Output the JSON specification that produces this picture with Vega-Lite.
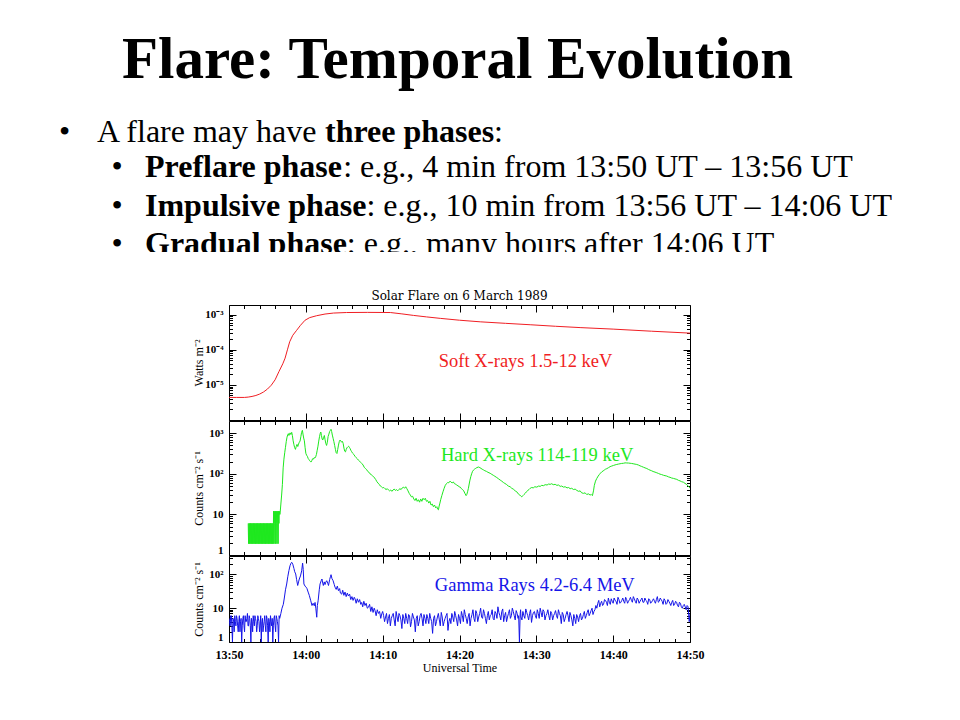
{
  "$schema": "https://vega.github.io/schema/vega-lite/v6.json",
  "padding": 0,
  "background": "white",
  "spacing": 37,
  "datasets": {
    "slide": [
      {"role": "heading", "x": 457.5, "y": 78, "text": "Flare: Temporal Evolution"},
      {"role": "bullet", "x": 59, "y": 142, "text": "•"},
      {"role": "text", "x": 97, "y": 142, "text": "A flare may have"},
      {"role": "term", "x": 325, "y": 142, "text": "three phases"},
      {"role": "text", "x": 494, "y": 142, "text": ":"},
      {"role": "bullet", "x": 111.5, "y": 177, "text": "•"},
      {"role": "term", "x": 145, "y": 177, "text": "Preflare phase"},
      {"role": "text", "x": 343.2, "y": 177, "text": ": e.g., 4 min from 13:50 UT – 13:56 UT"},
      {"role": "bullet", "x": 111.5, "y": 216, "text": "•"},
      {"role": "term", "x": 145, "y": 216, "text": "Impulsive phase"},
      {"role": "text", "x": 366.4, "y": 216, "text": ": e.g., 10 min from 13:56 UT – 14:06 UT"},
      {"role": "bullet", "x": 111.5, "y": 254, "text": "•"},
      {"role": "term", "x": 145, "y": 254, "text": "Gradual phase"},
      {"role": "text", "x": 346.8, "y": 254, "text": ":  e.g., many hours after 14:06 UT"}
    ],
    "sxr": [
      {"t": 0, "v": 4.4e-6}, {"t": 1, "v": 4.4e-6}, {"t": 2, "v": 4.4e-6}, {"t": 2.5, "v": 4.5e-6},
      {"t": 3, "v": 4.7e-6}, {"t": 3.5, "v": 5.0e-6}, {"t": 4, "v": 5.5e-6}, {"t": 4.5, "v": 6.3e-6},
      {"t": 5, "v": 7.6e-6}, {"t": 5.5, "v": 9.8e-6}, {"t": 6, "v": 1.4e-5}, {"t": 6.5, "v": 2.4e-5},
      {"t": 7, "v": 4.0e-5}, {"t": 7.3, "v": 5.8e-5}, {"t": 7.6, "v": 1.0e-4}, {"t": 7.9, "v": 1.7e-4},
      {"t": 8.3, "v": 2.6e-4}, {"t": 8.8, "v": 3.6e-4}, {"t": 9.3, "v": 5.0e-4}, {"t": 9.9, "v": 7.0e-4},
      {"t": 10.5, "v": 8.3e-4}, {"t": 11.4, "v": 9.4e-4}, {"t": 12.5, "v": 1.05e-3}, {"t": 13.6, "v": 1.12e-3},
      {"t": 15.3, "v": 1.16e-3}, {"t": 18, "v": 1.17e-3}, {"t": 21, "v": 1.16e-3}, {"t": 22.5, "v": 1.06e-3},
      {"t": 24, "v": 9.6e-4}, {"t": 25.7, "v": 8.7e-4}, {"t": 27.5, "v": 7.9e-4}, {"t": 30, "v": 7.0e-4},
      {"t": 32.7, "v": 6.3e-4}, {"t": 36, "v": 5.7e-4}, {"t": 39.2, "v": 5.2e-4}, {"t": 42.5, "v": 4.7e-4},
      {"t": 45.8, "v": 4.3e-4}, {"t": 50, "v": 3.9e-4}, {"t": 55, "v": 3.4e-4}, {"t": 60, "v": 3.0e-4}
    ],
    "hxr": [
      {"t":2.5,"v":6},{"t":2.55,"v":1.9},{"t":2.6,"v":6},{"t":2.65,"v":1.9},{"t":2.7,"v":6},{"t":2.75,"v":1.9},{"t":2.8,"v":6},{"t":2.85,"v":1.9},{"t":2.9,"v":6},{"t":2.95,"v":1.9},
      {"t":3.0,"v":6},{"t":3.05,"v":1.9},{"t":3.1,"v":6},{"t":3.15,"v":1.9},{"t":3.2,"v":6},{"t":3.25,"v":1.9},{"t":3.3,"v":6},{"t":3.35,"v":1.9},{"t":3.4,"v":6},{"t":3.45,"v":1.9},
      {"t":3.5,"v":6},{"t":3.55,"v":1.9},{"t":3.6,"v":6},{"t":3.65,"v":1.9},{"t":3.7,"v":6},{"t":3.75,"v":1.9},{"t":3.8,"v":6},{"t":3.85,"v":1.9},{"t":3.9,"v":6},{"t":3.95,"v":1.9},
      {"t":4.0,"v":6},{"t":4.05,"v":1.9},{"t":4.1,"v":6},{"t":4.15,"v":1.9},{"t":4.2,"v":6},{"t":4.25,"v":1.9},{"t":4.3,"v":6},{"t":4.35,"v":1.9},{"t":4.4,"v":6},{"t":4.45,"v":1.9},
      {"t":4.5,"v":6},{"t":4.55,"v":1.9},{"t":4.6,"v":6},{"t":4.65,"v":1.9},{"t":4.7,"v":6},{"t":4.75,"v":1.9},{"t":4.8,"v":6},{"t":4.85,"v":1.9},{"t":4.9,"v":6},{"t":4.95,"v":1.9},
      {"t":5.0,"v":6},{"t":5.05,"v":1.9},{"t":5.1,"v":6},{"t":5.15,"v":1.9},{"t":5.2,"v":6},{"t":5.25,"v":1.9},{"t":5.3,"v":6},{"t":5.35,"v":1.9},{"t":5.4,"v":6},{"t":5.45,"v":1.9},
      {"t":5.5,"v":6},{"t":5.55,"v":1.9},{"t":5.6,"v":6},{"t":5.65,"v":1.9},{"t":5.7,"v":6},{"t":5.75,"v":1.9},
      {"t":5.8,"v":12},{"t":5.85,"v":1.9},{"t":5.9,"v":12},{"t":5.95,"v":6},{"t":6.0,"v":1.9},{"t":6.05,"v":12},{"t":6.1,"v":1.9},{"t":6.15,"v":6},{"t":6.2,"v":12},{"t":6.25,"v":1.9},
      {"t":6.3,"v":12},{"t":6.35,"v":6},{"t":6.4,"v":1.9},{"t":6.45,"v":12},{"t":6.5,"v":6},{"t":6.55,"v":12},{"t":6.6,"v":10},
      {"t":6.64,"v":10},{"t":6.75,"v":18},{"t":6.85,"v":30},{"t":6.95,"v":55},{"t":7.05,"v":140},{"t":7.15,"v":230},{"t":7.25,"v":330},{"t":7.35,"v":450},{"t":7.45,"v":620},{"t":7.55,"v":800},
      {"t":7.65,"v":920},{"t":7.72,"v":975},{"t":7.8,"v":880},{"t":7.88,"v":960},{"t":7.95,"v":1020},{"t":8.05,"v":930},{"t":8.16,"v":1050},{"t":8.25,"v":880},{"t":8.35,"v":650},{"t":8.45,"v":520},
      {"t":8.55,"v":440},{"t":8.65,"v":400},{"t":8.75,"v":470},{"t":8.85,"v":530},{"t":8.95,"v":470},{"t":9.05,"v":540},{"t":9.15,"v":600},{"t":9.25,"v":640},{"t":9.35,"v":820},{"t":9.45,"v":1050},
      {"t":9.55,"v":1180},{"t":9.63,"v":950},{"t":9.72,"v":760},{"t":9.81,"v":650},{"t":9.9,"v":450},{"t":10.0,"v":320},{"t":10.1,"v":287},{"t":10.2,"v":270},{"t":10.3,"v":240},{"t":10.4,"v":225},
      {"t":10.5,"v":210},{"t":10.6,"v":200},{"t":10.68,"v":195},{"t":10.78,"v":212},{"t":10.88,"v":235},{"t":10.98,"v":230},{"t":11.08,"v":250},{"t":11.18,"v":245},{"t":11.28,"v":262},{"t":11.38,"v":300},
      {"t":11.48,"v":380},{"t":11.58,"v":480},{"t":11.68,"v":640},{"t":11.78,"v":820},{"t":11.88,"v":1000},{"t":11.95,"v":1070},{"t":12.03,"v":880},{"t":12.12,"v":720},{"t":12.2,"v":680},{"t":12.3,"v":770},
      {"t":12.41,"v":880},{"t":12.5,"v":700},{"t":12.6,"v":560},{"t":12.7,"v":500},{"t":12.8,"v":600},{"t":12.9,"v":830},{"t":13.0,"v":950},{"t":13.1,"v":1100},{"t":13.2,"v":1180},{"t":13.28,"v":1250},
      {"t":13.36,"v":1100},{"t":13.45,"v":900},{"t":13.55,"v":750},{"t":13.65,"v":620},{"t":13.75,"v":500},{"t":13.85,"v":400},{"t":13.95,"v":330},{"t":14.05,"v":316},{"t":14.15,"v":400},{"t":14.25,"v":510},
      {"t":14.35,"v":620},{"t":14.45,"v":680},{"t":14.55,"v":650},{"t":14.65,"v":600},{"t":14.76,"v":630},{"t":14.86,"v":560},{"t":14.96,"v":430},{"t":15.06,"v":360},{"t":15.16,"v":347},{"t":15.26,"v":400},
      {"t":15.36,"v":440},{"t":15.46,"v":460},{"t":15.56,"v":480},{"t":15.66,"v":450},{"t":15.76,"v":420},{"t":15.86,"v":380},{"t":15.97,"v":350},{"t":16.1,"v":320},{"t":16.25,"v":300},{"t":16.4,"v":270},
      {"t":16.55,"v":250},{"t":16.7,"v":235},{"t":16.84,"v":217},{"t":17.0,"v":205},{"t":17.15,"v":190},{"t":17.3,"v":178},{"t":17.45,"v":165},{"t":17.6,"v":145},{"t":17.75,"v":135},{"t":17.9,"v":128},
      {"t":18.05,"v":115},{"t":18.2,"v":110},{"t":18.35,"v":100},{"t":18.5,"v":96},{"t":18.65,"v":90},{"t":18.8,"v":86},{"t":18.95,"v":79},{"t":19.1,"v":72},{"t":19.25,"v":64},{"t":19.4,"v":59},
      {"t":19.55,"v":55},{"t":19.7,"v":50},{"t":19.85,"v":48},{"t":20.0,"v":45},{"t":20.15,"v":46},{"t":20.3,"v":43},{"t":20.45,"v":41},{"t":20.6,"v":43},{"t":20.75,"v":40},{"t":20.9,"v":38},
      {"t":21.05,"v":40},{"t":21.2,"v":37},{"t":21.35,"v":40},{"t":21.5,"v":42},{"t":21.65,"v":39},{"t":21.8,"v":41},{"t":21.95,"v":38},{"t":22.1,"v":41},{"t":22.25,"v":43},{"t":22.4,"v":41},
      {"t":22.55,"v":45},{"t":22.7,"v":47},{"t":22.85,"v":44},{"t":23.0,"v":48},{"t":23.15,"v":43},{"t":23.3,"v":38},{"t":23.45,"v":33},{"t":23.6,"v":30},{"t":23.75,"v":27},{"t":23.9,"v":28},
      {"t":24.05,"v":24},{"t":24.2,"v":22},{"t":24.35,"v":25},{"t":24.5,"v":21},{"t":24.65,"v":23},{"t":24.8,"v":20},{"t":24.95,"v":24},{"t":25.1,"v":21},{"t":25.25,"v":25},{"t":25.4,"v":23},
      {"t":25.55,"v":25},{"t":25.7,"v":21},{"t":25.85,"v":22},{"t":26.0,"v":19},{"t":26.15,"v":21},{"t":26.3,"v":17},{"t":26.45,"v":18},{"t":26.6,"v":15.5},{"t":26.75,"v":17},{"t":26.9,"v":14.5},
      {"t":27.05,"v":15.5},{"t":27.15,"v":13.5},{"t":27.26,"v":13},{"t":27.35,"v":16},{"t":27.45,"v":19},{"t":27.55,"v":23},{"t":27.7,"v":29},{"t":27.85,"v":36},{"t":28.0,"v":44},{"t":28.15,"v":52},
      {"t":28.3,"v":57},{"t":28.45,"v":61},{"t":28.6,"v":60},{"t":28.77,"v":66},{"t":28.9,"v":62},{"t":29.05,"v":60},{"t":29.2,"v":63},{"t":29.35,"v":57},{"t":29.5,"v":56},{"t":29.65,"v":52},
      {"t":29.8,"v":51},{"t":29.95,"v":48},{"t":30.1,"v":47},{"t":30.25,"v":43},{"t":30.4,"v":41},{"t":30.55,"v":38},{"t":30.7,"v":33},{"t":30.86,"v":29},{"t":30.95,"v":31},{"t":31.05,"v":36},
      {"t":31.16,"v":44},{"t":31.26,"v":56},{"t":31.36,"v":70},{"t":31.47,"v":85},{"t":31.58,"v":100},{"t":31.7,"v":115},{"t":31.81,"v":123},{"t":31.95,"v":130},{"t":32.1,"v":136},{"t":32.25,"v":142},
      {"t":32.47,"v":147},{"t":32.65,"v":142},{"t":32.8,"v":136},{"t":32.95,"v":130},{"t":33.12,"v":125},{"t":33.3,"v":119},{"t":33.5,"v":115},{"t":33.7,"v":109},{"t":33.99,"v":103},{"t":34.2,"v":97},
      {"t":34.4,"v":92},{"t":34.6,"v":87},{"t":34.85,"v":81},{"t":35.05,"v":76},{"t":35.3,"v":70},{"t":35.5,"v":66},{"t":35.72,"v":61},{"t":35.9,"v":58},{"t":36.1,"v":55},{"t":36.35,"v":50},
      {"t":36.59,"v":48},{"t":36.8,"v":44},{"t":37.0,"v":42},{"t":37.25,"v":38},{"t":37.46,"v":36},{"t":37.65,"v":32},{"t":37.85,"v":30},{"t":38.0,"v":28},{"t":38.1,"v":27},{"t":38.25,"v":29},
      {"t":38.4,"v":31},{"t":38.55,"v":33},{"t":38.7,"v":36},{"t":38.9,"v":39},{"t":39.05,"v":41},{"t":39.2,"v":44},{"t":39.4,"v":46},{"t":39.6,"v":45},{"t":39.8,"v":48},{"t":40.06,"v":47},
      {"t":40.3,"v":50},{"t":40.5,"v":49},{"t":40.7,"v":52},{"t":40.93,"v":51},{"t":41.15,"v":54},{"t":41.4,"v":53},{"t":41.6,"v":56},{"t":41.8,"v":55},{"t":42.0,"v":57},{"t":42.2,"v":54},
      {"t":42.45,"v":55},{"t":42.67,"v":52},{"t":42.9,"v":53},{"t":43.1,"v":49},{"t":43.3,"v":50},{"t":43.53,"v":47},{"t":43.75,"v":48},{"t":44.0,"v":45},{"t":44.2,"v":46},{"t":44.4,"v":43},
      {"t":44.6,"v":44},{"t":44.85,"v":41},{"t":45.05,"v":42},{"t":45.27,"v":39},{"t":45.5,"v":37},{"t":45.7,"v":38},{"t":45.9,"v":34},{"t":46.14,"v":33},{"t":46.35,"v":34},{"t":46.55,"v":31},
      {"t":46.79,"v":32},{"t":47.0,"v":30},{"t":47.15,"v":31},{"t":47.3,"v":29},{"t":47.44,"v":38},{"t":47.55,"v":52},{"t":47.7,"v":66},{"t":47.87,"v":77},{"t":48.05,"v":88},{"t":48.2,"v":96},
      {"t":48.35,"v":104},{"t":48.52,"v":112},{"t":48.7,"v":118},{"t":48.85,"v":124},{"t":49.0,"v":130},{"t":49.17,"v":134},{"t":49.4,"v":142},{"t":49.6,"v":150},{"t":49.8,"v":155},{"t":50.05,"v":161},
      {"t":50.25,"v":166},{"t":50.47,"v":170},{"t":50.7,"v":174},{"t":50.9,"v":177},{"t":51.1,"v":180},{"t":51.35,"v":182},{"t":51.55,"v":186},{"t":51.77,"v":185},{"t":52.0,"v":184},{"t":52.2,"v":182},
      {"t":52.4,"v":180},{"t":52.6,"v":177},{"t":52.85,"v":173},{"t":53.07,"v":170},{"t":53.3,"v":164},{"t":53.5,"v":157},{"t":53.7,"v":152},{"t":53.95,"v":145},{"t":54.15,"v":140},{"t":54.38,"v":135},
      {"t":54.6,"v":128},{"t":54.8,"v":123},{"t":55.0,"v":119},{"t":55.2,"v":114},{"t":55.45,"v":110},{"t":55.68,"v":106},{"t":55.9,"v":102},{"t":56.1,"v":98},{"t":56.3,"v":96},{"t":56.55,"v":92},
      {"t":56.75,"v":90},{"t":56.98,"v":88},{"t":57.2,"v":84},{"t":57.4,"v":82},{"t":57.6,"v":79},{"t":57.85,"v":77},{"t":58.05,"v":75},{"t":58.28,"v":73},{"t":58.5,"v":69},{"t":58.7,"v":67},
      {"t":58.9,"v":64},{"t":59.15,"v":62},{"t":59.35,"v":58},{"t":59.55,"v":55},{"t":59.75,"v":50},{"t":59.9,"v":47},{"t":60.0,"v":44}
    ],
    "gamma": [
      {"t":0.0,"v":5},{"t":0.075,"v":4},{"t":0.15,"v":3},{"t":0.225,"v":6},{"t":0.3,"v":6},{"t":0.375,"v":3},{"t":0.45,"v":1},{"t":0.525,"v":5},{"t":0.6,"v":4},{"t":0.675,"v":2},
      {"t":0.75,"v":6},{"t":0.825,"v":4},{"t":0.9,"v":3},{"t":0.975,"v":6},{"t":1.05,"v":5},{"t":1.125,"v":3},{"t":1.2,"v":2},{"t":1.275,"v":4},{"t":1.35,"v":6},{"t":1.425,"v":2},
      {"t":1.5,"v":4},{"t":1.575,"v":5},{"t":1.65,"v":1},{"t":1.725,"v":3},{"t":1.8,"v":5},{"t":1.875,"v":6},{"t":1.95,"v":3},{"t":2.025,"v":2},{"t":2.1,"v":6},{"t":2.175,"v":4},
      {"t":2.25,"v":4},{"t":2.325,"v":5},{"t":2.4,"v":7},{"t":2.475,"v":3},{"t":2.55,"v":3},{"t":2.625,"v":6},{"t":2.7,"v":5},{"t":2.775,"v":3},{"t":2.85,"v":1},{"t":2.925,"v":5},
      {"t":3.0,"v":4},{"t":3.075,"v":2},{"t":3.15,"v":6},{"t":3.225,"v":4},{"t":3.3,"v":3},{"t":3.375,"v":6},{"t":3.45,"v":5},{"t":3.525,"v":4},{"t":3.6,"v":2},{"t":3.675,"v":3},
      {"t":3.75,"v":6},{"t":3.825,"v":5},{"t":3.9,"v":4},{"t":3.975,"v":2},{"t":4.05,"v":3},{"t":4.125,"v":6},{"t":4.2,"v":1},{"t":4.275,"v":4},{"t":4.35,"v":5},{"t":4.425,"v":2},
      {"t":4.5,"v":3},{"t":4.575,"v":4},{"t":4.65,"v":6},{"t":4.725,"v":3},{"t":4.8,"v":2},{"t":4.875,"v":6},{"t":4.95,"v":5},{"t":5.025,"v":3},{"t":5.1,"v":1},{"t":5.175,"v":5},
      {"t":5.25,"v":4},{"t":5.325,"v":2},{"t":5.4,"v":6},{"t":5.475,"v":4},{"t":5.55,"v":3},{"t":5.625,"v":5},{"t":5.7,"v":1},{"t":5.775,"v":3},{"t":5.85,"v":5},{"t":5.925,"v":6},
      {"t":6.0,"v":3},{"t":6.075,"v":2},{"t":6.15,"v":6},{"t":6.225,"v":5},{"t":6.3,"v":4},{"t":6.375,"v":3},{"t":6.45,"v":1},{"t":6.525,"v":6},{"t":6.6,"v":5},
      {"t":6.75,"v":7},{"t":6.9,"v":10},{"t":7.07,"v":13},{"t":7.2,"v":20},{"t":7.35,"v":35},
      {"t":7.51,"v":52},{"t":7.65,"v":85},{"t":7.8,"v":130},{"t":7.94,"v":180},{"t":8.05,"v":210},{"t":8.16,"v":228},{"t":8.3,"v":200},{"t":8.45,"v":150},{"t":8.55,"v":120},{"t":8.68,"v":103},
      {"t":8.8,"v":70},{"t":8.94,"v":47},{"t":9.05,"v":60},{"t":9.15,"v":73},{"t":9.3,"v":90},{"t":9.46,"v":128},{"t":9.58,"v":215},{"t":9.66,"v":140},{"t":9.75,"v":52},{"t":9.9,"v":45},
      {"t":10.03,"v":42},{"t":10.15,"v":38},{"t":10.3,"v":30},{"t":10.45,"v":24},{"t":10.64,"v":16.6},{"t":10.8,"v":12},{"t":10.95,"v":14},{"t":11.1,"v":11.8},{"t":11.2,"v":14.8},{"t":11.3,"v":10},
      {"t":11.42,"v":5.4},{"t":11.5,"v":12},{"t":11.6,"v":16.6},{"t":11.75,"v":35},{"t":11.85,"v":52},{"t":12.0,"v":65},{"t":12.1,"v":73},{"t":12.2,"v":55},{"t":12.28,"v":47},{"t":12.4,"v":60},
      {"t":12.5,"v":50},{"t":12.6,"v":59},{"t":12.72,"v":65},{"t":12.85,"v":55},{"t":12.95,"v":47},{"t":13.1,"v":70},{"t":13.2,"v":85},{"t":13.28,"v":98},{"t":13.4,"v":75},{"t":13.55,"v":65},
      {"t":13.7,"v":50},{"t":13.8,"v":42},{"t":13.95,"v":36},{"t":14.1,"v":45},{"t":14.24,"v":33},{"t":14.4,"v":38},{"t":14.5,"v":28},{"t":14.67,"v":26},{"t":14.8,"v":34},{"t":14.95,"v":24},
      {"t":15.1,"v":30},{"t":15.25,"v":22},{"t":15.4,"v":28},{"t":15.54,"v":23},{"t":15.7,"v":26},{"t":15.85,"v":18},{"t":16.0,"v":22},{"t":16.15,"v":17},{"t":16.3,"v":21},{"t":16.41,"v":18.8},
      {"t":16.55,"v":14},{"t":16.7,"v":19},{"t":16.85,"v":15},{"t":17.0,"v":18},{"t":17.15,"v":13},{"t":17.27,"v":14.8},{"t":17.4,"v":11},{"t":17.55,"v":16},{"t":17.7,"v":12},{"t":17.85,"v":14},
      {"t":18.0,"v":10},{"t":18.14,"v":10.6},{"t":18.3,"v":13},{"t":18.45,"v":8},{"t":18.6,"v":11},{"t":18.75,"v":7.5},{"t":18.9,"v":10},{"t":19.01,"v":8.5},{"t":19.15,"v":6},{"t":19.3,"v":9},
      {"t":19.45,"v":7},{"t":19.6,"v":8},{"t":19.75,"v":5},{"t":19.88,"v":6.8},{"t":20.0,"v":8},
      {"t":20.125,"v":6},{"t":20.25,"v":4},{"t":20.375,"v":5.5},{"t":20.5,"v":7},{"t":20.625,"v":3.5},{"t":20.75,"v":5},{"t":20.875,"v":6.5},{"t":21.0,"v":3},{"t":21.125,"v":5},{"t":21.25,"v":6},
      {"t":21.375,"v":7},{"t":21.5,"v":4.5},{"t":21.625,"v":3},{"t":21.75,"v":8},{"t":21.875,"v":5.5},{"t":22.0,"v":4},{"t":22.125,"v":7},{"t":22.25,"v":6},{"t":22.375,"v":4.5},{"t":22.5,"v":2.5},
      {"t":22.625,"v":6.5},{"t":22.75,"v":5},{"t":22.875,"v":3.5},{"t":23.0,"v":7},{"t":23.125,"v":5},{"t":23.25,"v":3.5},{"t":23.375,"v":6.5},{"t":23.5,"v":6},{"t":23.625,"v":2.8},{"t":23.75,"v":4},
      {"t":23.875,"v":7},{"t":24.0,"v":5.5},{"t":24.125,"v":4.5},{"t":24.25,"v":2},{"t":24.375,"v":5},{"t":24.5,"v":6},{"t":24.625,"v":3},{"t":24.75,"v":4},{"t":24.875,"v":6},{"t":25.0,"v":7},
      {"t":25.125,"v":5},{"t":25.25,"v":3},{"t":25.375,"v":6.5},{"t":25.5,"v":5},{"t":25.625,"v":3.5},{"t":25.75,"v":6.5},{"t":25.875,"v":5},{"t":26.0,"v":3.5},{"t":26.125,"v":7},{"t":26.25,"v":5},
      {"t":26.375,"v":4},{"t":26.5,"v":1.8},{"t":26.625,"v":5},{"t":26.75,"v":6},{"t":26.875,"v":3},{"t":27.0,"v":4},{"t":27.125,"v":5.5},{"t":27.25,"v":7},{"t":27.375,"v":4.5},{"t":27.5,"v":3},
      {"t":27.625,"v":7.5},{"t":27.75,"v":5.5},{"t":27.875,"v":3},{"t":28.0,"v":4},{"t":28.125,"v":5},{"t":28.25,"v":6},{"t":28.375,"v":7},{"t":28.5,"v":2.2},{"t":28.625,"v":4},{"t":28.75,"v":5},
      {"t":28.875,"v":3.5},{"t":29.0,"v":7},{"t":29.125,"v":5.5},{"t":29.25,"v":4},{"t":29.375,"v":8},{"t":29.5,"v":6},{"t":29.625,"v":4.5},{"t":29.75,"v":3},{"t":29.875,"v":6.5},{"t":30.0,"v":5},
      {"t":30.125,"v":3.5},{"t":30.25,"v":8},{"t":30.375,"v":6},{"t":30.5,"v":4},{"t":30.625,"v":9},{"t":30.75,"v":6.5},{"t":30.875,"v":5},{"t":31.0,"v":3.5},{"t":31.125,"v":5.5},{"t":31.25,"v":7},
      {"t":31.375,"v":3},{"t":31.5,"v":5},{"t":31.625,"v":6.5},{"t":31.75,"v":9},{"t":31.875,"v":5},{"t":32.0,"v":4},{"t":32.125,"v":8.5},{"t":32.25,"v":7},{"t":32.375,"v":4},{"t":32.5,"v":5.5},
      {"t":32.625,"v":7},{"t":32.75,"v":10},{"t":32.875,"v":5.5},{"t":33.0,"v":5},{"t":33.125,"v":9},{"t":33.25,"v":7},{"t":33.375,"v":5},{"t":33.5,"v":3.5},{"t":33.625,"v":6},{"t":33.75,"v":8},
      {"t":33.875,"v":4.5},{"t":34.0,"v":6},{"t":34.125,"v":6.5},{"t":34.25,"v":9},{"t":34.375,"v":5},{"t":34.5,"v":4.5},{"t":34.625,"v":8},{"t":34.75,"v":7},{"t":34.875,"v":5},{"t":35.0,"v":11},
      {"t":35.125,"v":7.5},{"t":35.25,"v":6},{"t":35.375,"v":4.5},{"t":35.5,"v":8},{"t":35.625,"v":9.5},{"t":35.75,"v":4},{"t":35.875,"v":6},{"t":36.0,"v":7.5},{"t":36.125,"v":4},{"t":36.25,"v":5.5},
      {"t":36.375,"v":7},{"t":36.5,"v":9},{"t":36.625,"v":5},{"t":36.75,"v":6},{"t":36.875,"v":10},{"t":37.0,"v":8},{"t":37.125,"v":6},{"t":37.25,"v":4.5},{"t":37.375,"v":8.5},{"t":37.5,"v":7},
      {"t":37.625,"v":5},{"t":37.7,"v":6},{"t":37.8,"v":1},{"t":37.9,"v":7},{"t":37.95,"v":9},{"t":38.0,"v":5.5},{"t":38.125,"v":4.5},{"t":38.25,"v":8},{"t":38.375,"v":6},{"t":38.5,"v":5},
      {"t":38.625,"v":9.5},{"t":38.75,"v":7.5},{"t":38.875,"v":6},{"t":39.0,"v":4.5},{"t":39.125,"v":7},{"t":39.25,"v":9},{"t":39.375,"v":3.8},{"t":39.5,"v":6},{"t":39.625,"v":7.5},{"t":39.75,"v":8},
      {"t":39.875,"v":6},{"t":40.0,"v":5},{"t":40.125,"v":9},{"t":40.25,"v":7},{"t":40.375,"v":5},{"t":40.5,"v":10},{"t":40.625,"v":7.5},{"t":40.75,"v":5.5},{"t":40.875,"v":9},{"t":41.0,"v":8},
      {"t":41.125,"v":4.5},{"t":41.25,"v":6},{"t":41.375,"v":7},{"t":41.5,"v":9},{"t":41.625,"v":6},{"t":41.75,"v":4.5},{"t":41.875,"v":8},{"t":42.0,"v":7},{"t":42.125,"v":4.5},{"t":42.25,"v":6},
      {"t":42.375,"v":7},{"t":42.5,"v":8.5},{"t":42.625,"v":6},{"t":42.75,"v":5},{"t":42.875,"v":9},{"t":43.0,"v":7},{"t":43.125,"v":6},{"t":43.25,"v":3.5},{"t":43.375,"v":7.5},{"t":43.5,"v":6.5},
      {"t":43.625,"v":4},{"t":43.75,"v":5},{"t":43.875,"v":6.5},{"t":44.0,"v":8},{"t":44.125,"v":6},{"t":44.25,"v":4},{"t":44.375,"v":7.5},{"t":44.5,"v":6},{"t":44.625,"v":4.5},{"t":44.75,"v":3},
      {"t":44.875,"v":6.5},{"t":45.0,"v":5},{"t":45.125,"v":3.5},{"t":45.25,"v":6.5},{"t":45.375,"v":5.5},{"t":45.5,"v":4},{"t":45.625,"v":6},{"t":45.75,"v":7},{"t":45.875,"v":4.5},{"t":46.0,"v":5},
      {"t":46.125,"v":6.5},{"t":46.25,"v":8},{"t":46.375,"v":5},{"t":46.5,"v":6},{"t":46.625,"v":7.5},{"t":46.75,"v":9},{"t":46.875,"v":6},{"t":47.0,"v":7},{"t":47.125,"v":8.5},{"t":47.25,"v":10},
      {"t":47.375,"v":6.5},{"t":47.5,"v":8},{"t":47.625,"v":9},{"t":47.75,"v":12},{"t":47.875,"v":10},{"t":48.0,"v":14},{"t":48.125,"v":17},{"t":48.25,"v":11},{"t":48.375,"v":14},{"t":48.5,"v":16},
      {"t":48.625,"v":12},{"t":48.75,"v":13},{"t":48.875,"v":18},{"t":49.0,"v":17},{"t":49.125,"v":15},{"t":49.25,"v":12},{"t":49.375,"v":20},{"t":49.5,"v":15},{"t":49.625,"v":13},{"t":49.75,"v":19},
      {"t":49.875,"v":16},{"t":50.0,"v":14},{"t":50.125,"v":20},{"t":50.25,"v":17},{"t":50.375,"v":16},{"t":50.5,"v":13},{"t":50.625,"v":21},{"t":50.75,"v":18},{"t":50.875,"v":14},{"t":51.0,"v":15},
      {"t":51.125,"v":17},{"t":51.25,"v":20},{"t":51.375,"v":16},{"t":51.5,"v":14},{"t":51.625,"v":21},{"t":51.75,"v":18},{"t":51.875,"v":14},{"t":52.0,"v":16},{"t":52.125,"v":18},{"t":52.25,"v":21},
      {"t":52.375,"v":17},{"t":52.5,"v":15},{"t":52.625,"v":22},{"t":52.75,"v":19},{"t":52.875,"v":16},{"t":53.0,"v":14},{"t":53.125,"v":20},{"t":53.25,"v":18},{"t":53.375,"v":14},{"t":53.5,"v":16},
      {"t":53.625,"v":18},{"t":53.75,"v":20},{"t":53.875,"v":15},{"t":54.0,"v":15},{"t":54.125,"v":20},{"t":54.25,"v":17},{"t":54.375,"v":16},{"t":54.5,"v":13},{"t":54.625,"v":19},{"t":54.75,"v":18},
      {"t":54.875,"v":14},{"t":55.0,"v":15},{"t":55.125,"v":17},{"t":55.25,"v":19},{"t":55.375,"v":16},{"t":55.5,"v":14},{"t":55.625,"v":18},{"t":55.75,"v":22},{"t":55.875,"v":15},{"t":56.0,"v":16},
      {"t":56.125,"v":20},{"t":56.25,"v":18},{"t":56.375,"v":16},{"t":56.5,"v":13},{"t":56.625,"v":19},{"t":56.75,"v":17},{"t":56.875,"v":13},{"t":57.0,"v":14},{"t":57.125,"v":18},{"t":57.25,"v":16},
      {"t":57.375,"v":14},{"t":57.5,"v":12},{"t":57.625,"v":15},{"t":57.75,"v":17},{"t":57.875,"v":12},{"t":58.0,"v":13},{"t":58.125,"v":16},{"t":58.25,"v":15},{"t":58.375,"v":12},{"t":58.5,"v":11},
      {"t":58.625,"v":15},{"t":58.75,"v":14},{"t":58.875,"v":11},{"t":59.0,"v":10},{"t":59.125,"v":12},{"t":59.25,"v":13},{"t":59.375,"v":11},{"t":59.5,"v":9},{"t":59.625,"v":12},{"t":59.75,"v":11},
      {"t":59.9,"v":4},{"t":60.0,"v":7}
    ]
  },
  "vconcat": [
    {
      "width": 960,
      "height": 252,
      "view": {"stroke": null},
      "data": {"name": "slide"},
      "encoding": {
        "x": {"field": "x", "type": "quantitative", "scale": {"domain": [0, 960], "nice": false, "zero": false}, "axis": null},
        "y": {"field": "y", "type": "quantitative", "scale": {"domain": [0, 252], "nice": false, "zero": false, "reverse": true}, "axis": null},
        "text": {"field": "text"}
      },
      "layer": [
        {"transform": [{"filter": "datum.role == 'heading'"}],
         "mark": {"type": "text", "font": "Liberation Serif", "fontSize": 59, "fontWeight": "bold", "align": "center", "baseline": "alphabetic", "color": "#000"}},
        {"transform": [{"filter": "datum.role == 'term'"}],
         "mark": {"type": "text", "font": "Liberation Serif", "fontSize": 32, "fontWeight": "bold", "align": "left", "baseline": "alphabetic", "color": "#000", "clip": true}},
        {"transform": [{"filter": "datum.role == 'text' || datum.role == 'bullet'"}],
         "mark": {"type": "text", "font": "Liberation Serif", "fontSize": 32, "fontWeight": "normal", "align": "left", "baseline": "alphabetic", "color": "#000", "clip": true}}
      ]
    },
    {
      "spacing": 0,
      "hconcat": [
        {
          "width": 188,
          "height": 10,
          "view": {"stroke": null},
          "data": {"values": []},
          "mark": "point"
        },
        {
          "spacing": -3,
          "vconcat": [
            {
              "width": 461,
              "height": 115,
              "title": {"text": "Solar Flare on 6 March 1989", "font": "DejaVu Serif", "fontSize": 12, "fontWeight": "normal", "offset": 2, "anchor": "middle", "color": "#000"},
              "layer": [
                {
                  "data": {"name": "sxr"},
                  "mark": {"type": "line", "color": "#f01e23", "strokeWidth": 1, "clip": true},
                  "encoding": {
                    "x": {"field": "t", "type": "quantitative", "scale": {"domain": [0, 60], "nice": false, "zero": false},
                      "axis": {"orient": "bottom", "values": [0,2,4,6,8,10,12,14,16,18,20,22,24,26,28,30,32,34,36,38,40,42,44,46,48,50,52,54,56,58,60], "labels": false, "title": null, "tickSize": {"condition": {"test": "datum.value % 10 === 0", "value": -7}, "value": -3.5}, "minExtent": 0, "maxExtent": 0}},
                    "y": {"field": "v", "type": "quantitative", "scale": {"type": "log", "domain": [1e-6, 1.9e-3], "nice": false},
                      "axis": {"orient": "left", "values": [1e-6,2e-6,3e-6,4e-6,5e-6,6e-6,7e-6,8e-6,9e-6,1e-5,2e-5,3e-5,4e-5,5e-5,6e-5,7e-5,8e-5,9e-5,1e-4,2e-4,3e-4,4e-4,5e-4,6e-4,7e-4,8e-4,9e-4,1e-3],
                        "labelExpr": "datum.value == 0.001 ? '10⁻³' : datum.value == 0.0001 ? '10⁻⁴' : datum.value == 0.00001 ? '10⁻⁵' : ''",
                        "labelFontSize": {"condition": {"test": "datum.value == 0.001 || datum.value == 0.0001 || datum.value == 0.00001", "value": 11}, "value": 0},
                        "title": "Watts m⁻²", "titleX": -31, "titleY": 57.5, "titleBaseline": "middle", "titleAlign": "center", "titleAngle": -90,
                        "tickSize": {"condition": {"test": "abs(log(datum.value)/LN10 - round(log(datum.value)/LN10)) < 0.001", "value": -7}, "value": -3.5},
                        "labelPadding": 13, "minExtent": 40, "maxExtent": 40}}
                  }
                },
                {
                  "data": {"values": [{"t": 38.6, "v": 4.85e-5, "label": "Soft X-rays 1.5-12 keV"}]},
                  "mark": {"type": "text", "font": "Liberation Serif", "fontSize": 18.5, "color": "#f01e23", "align": "center", "baseline": "middle"},
                  "encoding": {
                    "x": {"field": "t", "type": "quantitative", "scale": {"domain": [0, 60], "nice": false, "zero": false},
                      "axis": {"orient": "top", "values": [0,2,4,6,8,10,12,14,16,18,20,22,24,26,28,30,32,34,36,38,40,42,44,46,48,50,52,54,56,58,60], "labels": false, "title": null, "tickSize": {"condition": {"test": "datum.value % 10 === 0", "value": -7}, "value": -3.5}, "minExtent": 0, "maxExtent": 0}},
                    "y": {"field": "v", "type": "quantitative", "scale": {"type": "log", "domain": [1e-6, 1.9e-3], "nice": false},
                      "axis": {"orient": "right", "values": [1e-6,2e-6,3e-6,4e-6,5e-6,6e-6,7e-6,8e-6,9e-6,1e-5,2e-5,3e-5,4e-5,5e-5,6e-5,7e-5,8e-5,9e-5,1e-4,2e-4,3e-4,4e-4,5e-4,6e-4,7e-4,8e-4,9e-4,1e-3], "labels": false, "title": null,
                        "tickSize": {"condition": {"test": "abs(log(datum.value)/LN10 - round(log(datum.value)/LN10)) < 0.001", "value": -7}, "value": -3.5}, "minExtent": 0, "maxExtent": 0}},
                    "text": {"field": "label"}
                  }
                }
              ],
              "resolve": {"axis": {"x": "independent", "y": "independent"}}
            },
            {
              "width": 461,
              "height": 134,
              "layer": [
                {
                  "data": {"name": "hxr"},
                  "mark": {"type": "line", "color": "#1ee81e", "strokeWidth": 1, "clip": true},
                  "encoding": {
                    "x": {"field": "t", "type": "quantitative", "scale": {"domain": [0, 60], "nice": false, "zero": false},
                      "axis": {"orient": "bottom", "values": [0,2,4,6,8,10,12,14,16,18,20,22,24,26,28,30,32,34,36,38,40,42,44,46,48,50,52,54,56,58,60], "labels": false, "title": null, "tickSize": {"condition": {"test": "datum.value % 10 === 0", "value": -7}, "value": -3.5}, "minExtent": 0, "maxExtent": 0}},
                    "y": {"field": "v", "type": "quantitative", "scale": {"type": "log", "domain": [1, 2000], "nice": false},
                      "axis": {"orient": "left", "values": [1,2,3,4,5,6,7,8,9,10,20,30,40,50,60,70,80,90,100,200,300,400,500,600,700,800,900,1000],
                        "labelExpr": "datum.value == 1000 ? '10³' : datum.value == 100 ? '10²' : datum.value == 10 ? '10' : datum.value == 1 ? '1' : ''",
                        "labelFontSize": {"condition": {"test": "datum.value == 1000 || datum.value == 100 || datum.value == 10 || datum.value == 1", "value": 11}, "value": 0},
                        "labelBaseline": {"condition": {"test": "datum.value == 1", "value": "bottom"}, "value": "middle"},
                        "title": "Counts cm⁻² s⁻¹", "titleX": -31, "titleY": 67, "titleBaseline": "middle", "titleAlign": "center", "titleAngle": -90,
                        "tickSize": {"condition": {"test": "abs(log(datum.value)/LN10 - round(log(datum.value)/LN10)) < 0.001", "value": -7}, "value": -3.5},
                        "labelPadding": 13, "minExtent": 40, "maxExtent": 40}}
                  }
                },
                {
                  "data": {"values": [{"t": 40.1, "v": 295, "label": "Hard X-rays 114-119 keV"}]},
                  "mark": {"type": "text", "font": "Liberation Serif", "fontSize": 18.5, "color": "#1ee81e", "align": "center", "baseline": "middle"},
                  "encoding": {
                    "x": {"field": "t", "type": "quantitative", "scale": {"domain": [0, 60], "nice": false, "zero": false},
                      "axis": {"orient": "top", "values": [0,2,4,6,8,10,12,14,16,18,20,22,24,26,28,30,32,34,36,38,40,42,44,46,48,50,52,54,56,58,60], "labels": false, "title": null, "tickSize": {"condition": {"test": "datum.value % 10 === 0", "value": -7}, "value": -3.5}, "minExtent": 0, "maxExtent": 0}},
                    "y": {"field": "v", "type": "quantitative", "scale": {"type": "log", "domain": [1, 2000], "nice": false},
                      "axis": {"orient": "right", "values": [1,2,3,4,5,6,7,8,9,10,20,30,40,50,60,70,80,90,100,200,300,400,500,600,700,800,900,1000], "labels": false, "title": null,
                        "tickSize": {"condition": {"test": "abs(log(datum.value)/LN10 - round(log(datum.value)/LN10)) < 0.001", "value": -7}, "value": -3.5}, "minExtent": 0, "maxExtent": 0}},
                    "text": {"field": "label"}
                  }
                }
              ],
              "resolve": {"axis": {"x": "independent", "y": "independent"}}
            },
            {
              "width": 461,
              "height": 86,
              "layer": [
                {
                  "data": {"name": "gamma"},
                  "mark": {"type": "line", "color": "#1515e8", "strokeWidth": 1, "clip": true},
                  "encoding": {
                    "x": {"field": "t", "type": "quantitative", "scale": {"domain": [0, 60], "nice": false, "zero": false},
                      "axis": {"orient": "bottom", "values": [0,2,4,6,8,10,12,14,16,18,20,22,24,26,28,30,32,34,36,38,40,42,44,46,48,50,52,54,56,58,60],
                        "labelExpr": "datum.value % 10 === 0 ? timeFormat(datetime(1989, 2, 6, 13, 50 + datum.value), '%H:%M') : ''",
                        "labelFontSize": {"condition": {"test": "datum.value % 10 === 0", "value": 12}, "value": 0},
                        "labelPadding": 14,
                        "title": "Universal Time", "titleFont": "Liberation Serif", "titleFontSize": 12, "titleFontWeight": "normal", "titlePadding": 2,
                        "tickSize": {"condition": {"test": "datum.value % 10 === 0", "value": -7}, "value": -3.5}}},
                    "y": {"field": "v", "type": "quantitative", "scale": {"type": "log", "domain": [1, 350], "nice": false},
                      "axis": {"orient": "left", "values": [1,2,3,4,5,6,7,8,9,10,20,30,40,50,60,70,80,90,100,200,300],
                        "labelExpr": "datum.value == 100 ? '10²' : datum.value == 10 ? '10' : datum.value == 1 ? '1' : ''",
                        "labelFontSize": {"condition": {"test": "datum.value == 100 || datum.value == 10 || datum.value == 1", "value": 11}, "value": 0},
                        "labelBaseline": {"condition": {"test": "datum.value == 1", "value": "bottom"}, "value": "middle"},
                        "title": "Counts cm⁻² s⁻¹", "titleX": -31, "titleY": 43, "titleBaseline": "middle", "titleAlign": "center", "titleAngle": -90,
                        "tickSize": {"condition": {"test": "abs(log(datum.value)/LN10 - round(log(datum.value)/LN10)) < 0.001", "value": -7}, "value": -3.5},
                        "labelPadding": 13, "minExtent": 40, "maxExtent": 40}}
                  }
                },
                {
                  "data": {"values": [{"t": 39.8, "v": 47.6, "label": "Gamma Rays 4.2-6.4 MeV"}]},
                  "mark": {"type": "text", "font": "Liberation Serif", "fontSize": 18.5, "color": "#1515e8", "align": "center", "baseline": "middle"},
                  "encoding": {
                    "x": {"field": "t", "type": "quantitative", "scale": {"domain": [0, 60], "nice": false, "zero": false},
                      "axis": {"orient": "top", "values": [0,2,4,6,8,10,12,14,16,18,20,22,24,26,28,30,32,34,36,38,40,42,44,46,48,50,52,54,56,58,60], "labels": false, "title": null, "tickSize": {"condition": {"test": "datum.value % 10 === 0", "value": -7}, "value": -3.5}, "minExtent": 0, "maxExtent": 0}},
                    "y": {"field": "v", "type": "quantitative", "scale": {"type": "log", "domain": [1, 350], "nice": false},
                      "axis": {"orient": "right", "values": [1,2,3,4,5,6,7,8,9,10,20,30,40,50,60,70,80,90,100,200,300], "labels": false, "title": null,
                        "tickSize": {"condition": {"test": "abs(log(datum.value)/LN10 - round(log(datum.value)/LN10)) < 0.001", "value": -7}, "value": -3.5}, "minExtent": 0, "maxExtent": 0}},
                    "text": {"field": "label"}
                  }
                }
              ],
              "resolve": {"axis": {"x": "independent", "y": "independent"}}
            }
          ]
        }
      ]
    }
  ],
  "config": {
    "view": {"stroke": "#000", "strokeWidth": 1},
    "axis": {"grid": false, "domain": false, "labelFont": "Liberation Serif", "labelFontWeight": "bold", "labelFontSize": 11, "labelColor": "#000", "tickColor": "#000", "tickWidth": 1, "titleFont": "Liberation Serif", "titleFontSize": 12, "titleFontWeight": "normal", "titleColor": "#000", "labelOverlap": false, "labelFlush": false, "labelBound": false}
  }
}
